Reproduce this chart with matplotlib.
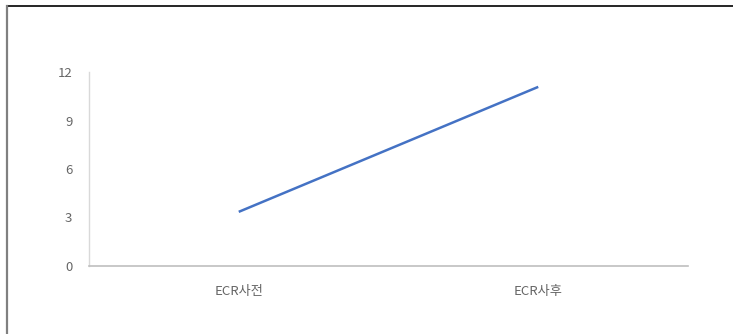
import matplotlib
matplotlib.use("Agg")
import matplotlib.pyplot as plt
from matplotlib.lines import Line2D

plt.rcParams["font.family"] = ["Noto Sans CJK KR", "DejaVu Sans"]

categories = ["ECR사전", "ECR사후"]
values = [3.35, 11.08]
y_ticks = [0, 3, 6, 9, 12]

fig = plt.figure(figsize=(7.33, 3.34), dpi=100)
ax = fig.add_axes([89 / 733, (334 - 266) / 334, (688 - 89) / 733, (266 - 72) / 334])

x = list(range(len(categories)))
ax.plot(x, values, color="#4472C4", lw=1.8, solid_capstyle="butt")

ax.set_xlim(-0.5, len(categories) - 0.5)
ax.set_ylim(0, 12)
ax.set_yticks(y_ticks)
ax.set_xticks(x)
ax.set_xticklabels(categories)
ax.tick_params(axis="both", length=0, labelsize=9.5, labelcolor="#666666")
ax.tick_params(axis="y", pad=12)
ax.tick_params(axis="x", pad=14)

for side in ["top", "right"]:
    ax.spines[side].set_visible(False)
ax.spines["left"].set_color("#D9D9D9")
ax.spines["left"].set_linewidth(1.0)
ax.spines["bottom"].set_color("#BFBFBF")
ax.spines["bottom"].set_linewidth(1.2)

# outer frame (top and left edges only visible)
fig.add_artist(Line2D([7 / 733, 1], [1 - 6 / 334, 1 - 6 / 334], transform=fig.transFigure,
                      color="black", lw=1.2))
fig.add_artist(Line2D([7 / 733, 7 / 733], [0, 1 - 6 / 334], transform=fig.transFigure,
                      color="#808080", lw=1.6))

fig.savefig("out.png", dpi=100)
